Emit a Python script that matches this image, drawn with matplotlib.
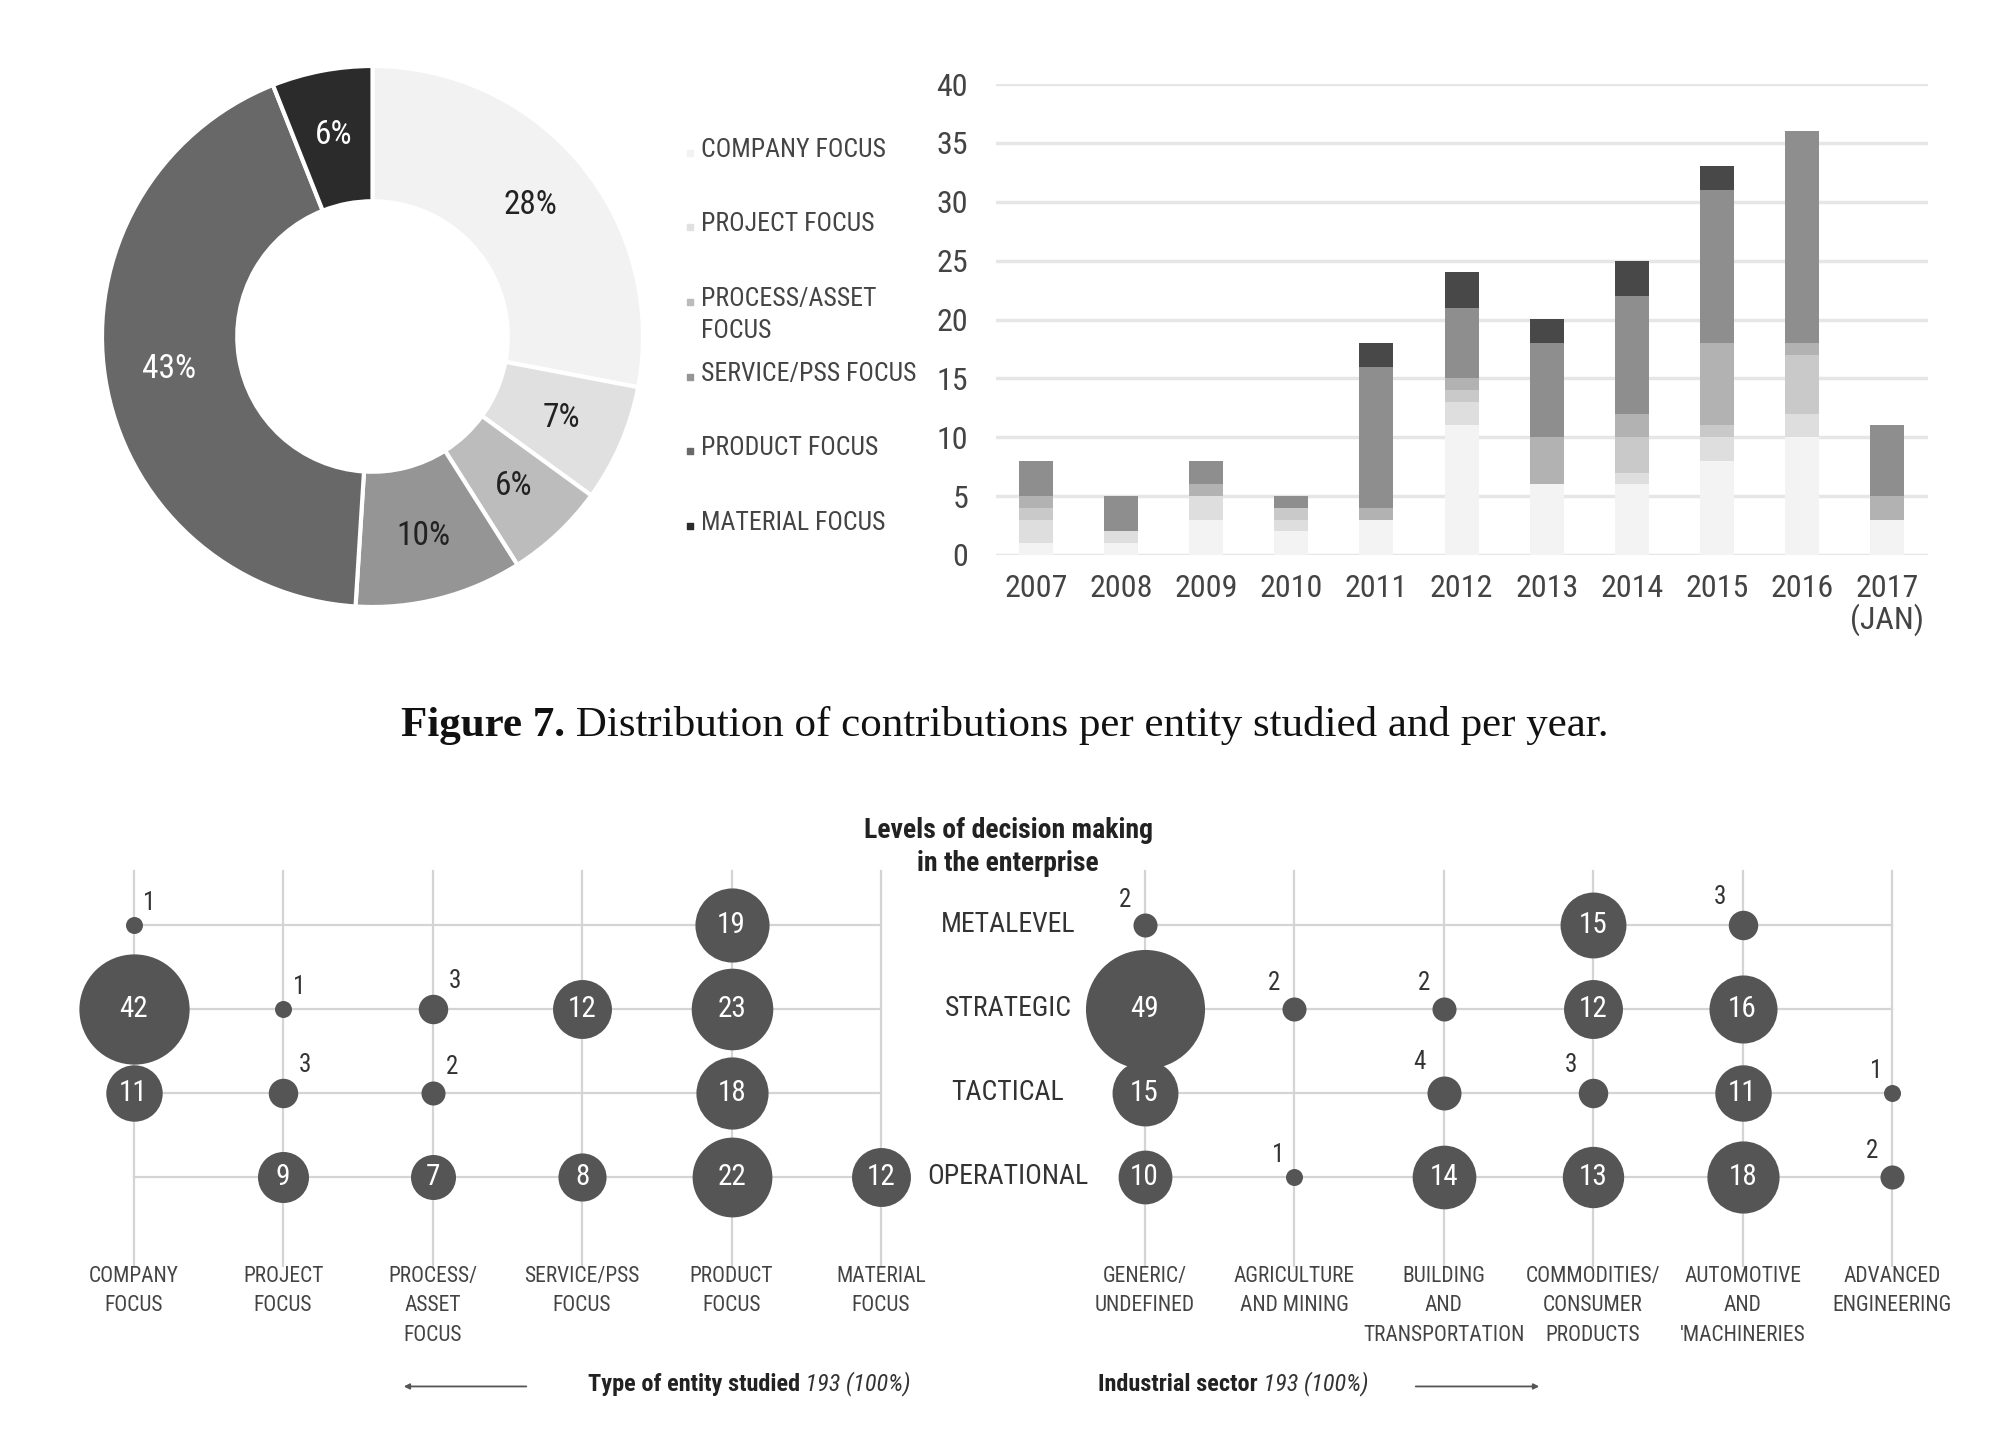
import matplotlib
matplotlib.use("Agg")
import matplotlib.pyplot as plt
from matplotlib import font_manager


# ---- donut: share of contributions per entity studied ----
ENTITY_NAMES = ["COMPANY FOCUS", "PROJECT FOCUS", "PROCESS/ASSET\nFOCUS",
                "SERVICE/PSS FOCUS", "PRODUCT FOCUS", "MATERIAL FOCUS"]
ENTITY_SHARE = [28, 7, 6, 10, 43, 6]

# ---- stacked bars: contributions per year ----
YEARS = ["2007", "2008", "2009", "2010", "2011", "2012", "2013", "2014",
         "2015", "2016", "2017\n(JAN)"]
COMPANY = [1, 1, 3, 2, 3, 11, 6, 6, 8, 10, 3]
PROJECT = [2, 1, 2, 1, 0, 2, 0, 1, 2, 2, 0]
PROCESS = [1, 0, 0, 1, 0, 1, 0, 3, 1, 5, 0]
SERVICE = [1, 0, 1, 0, 1, 1, 4, 2, 7, 1, 2]
PRODUCT = [3, 3, 2, 1, 12, 6, 8, 10, 13, 18, 6]
MATERIAL = [0, 0, 0, 0, 2, 3, 2, 3, 2, 0, 0]

# ---- bubble grid: levels of decision making ----
LEVELS = ["OPERATIONAL", "TACTICAL", "STRATEGIC", "METALEVEL"]
ENTITY_COLS = ["COMPANY\nFOCUS", "PROJECT\nFOCUS", "PROCESS/\nASSET\nFOCUS",
               "SERVICE/PSS\nFOCUS", "PRODUCT\nFOCUS", "MATERIAL\nFOCUS"]
ENTITY_OPERATIONAL = [0, 9, 7, 8, 22, 12]
ENTITY_TACTICAL = [11, 3, 2, 0, 18, 0]
ENTITY_STRATEGIC = [42, 1, 3, 12, 23, 0]
ENTITY_METALEVEL = [1, 0, 0, 0, 19, 0]

SECTOR_COLS = ["GENERIC/\nUNDEFINED", "AGRICULTURE\nAND MINING",
               "BUILDING\nAND\nTRANSPORTATION", "COMMODITIES/\nCONSUMER\nPRODUCTS",
               "AUTOMOTIVE\nAND\n'MACHINERIES", "ADVANCED\nENGINEERING"]
SECTOR_OPERATIONAL = [10, 1, 14, 13, 18, 2]
SECTOR_TACTICAL = [15, 0, 4, 3, 11, 1]
SECTOR_STRATEGIC = [49, 2, 2, 12, 16, 0]
SECTOR_METALEVEL = [2, 0, 0, 15, 3, 0]


def pick_narrow():
    names = {f.name for f in font_manager.fontManager.ttflist}
    for cand in ["Liberation Sans Narrow", "Roboto Condensed", "Open Sans Condensed"]:
        if cand in names:
            return cand
    return "DejaVu Sans"


NARROW = pick_narrow()
TEXT = "#444444"
W, H = 2004, 1434


def box(x0, y0, x1, y1):
    # pixel box (top-left origin) -> figure fraction rect
    return [x0 / W, 1 - y1 / H, (x1 - x0) / W, (y1 - y0) / H]


fig = plt.figure(figsize=(W / 100, H / 100), dpi=100)

# ---------------- donut ----------------
donut_colors = ["#f2f2f2", "#e0e0e0", "#bcbcbc", "#959595", "#686868", "#2b2b2b"]
ax_pie = fig.add_axes(box(102, 66, 643, 607))
wedges, _, autotexts = ax_pie.pie(
    ENTITY_SHARE,
    colors=donut_colors,
    startangle=90,
    counterclock=False,
    radius=1.0,
    autopct=lambda p: f"{p:.0f}%",
    pctdistance=0.76,
    wedgeprops=dict(width=0.5, edgecolor="white", linewidth=3),
)
for i, t in enumerate(autotexts):
    t.set_fontfamily(NARROW)
    t.set_fontsize(24)
    t.set_color("white" if i >= 4 else "#222222")
ax_pie.set_xlim(-1, 1)
ax_pie.set_ylim(-1, 1)
ax_pie.set_aspect("equal")

# legend next to the donut
step = 74.5
ax_leg = fig.add_axes(box(680, 130, 930, 560))
ax_leg.set_xlim(0, 1)
ax_leg.set_ylim(5 + (560 - 522) / step, -(149 - 130) / step)
ax_leg.axis("off")
bar_colors = ["#f3f3f3", "#dedede", "#c9c9c9", "#b2b2b2", "#8e8e8e", "#484848"]
for i, name in enumerate(ENTITY_NAMES):
    ax_leg.scatter([0.04], [i + 0.05], marker="s", s=14, color=donut_colors[i])
    ax_leg.text(0.085, i - 0.15, name, ha="left", va="top", fontfamily=NARROW,
                fontsize=18.5, color=TEXT, linespacing=1.4)

# ---------------- stacked bars ----------------
ax_bar = fig.add_axes(box(996, 84, 1928, 555))
x = list(range(len(YEARS)))
bottom = [0] * len(YEARS)
for series, col in zip([COMPANY, PROJECT, PROCESS, SERVICE, PRODUCT, MATERIAL], bar_colors):
    ax_bar.bar(x, series, bottom=bottom, width=0.4, color=col, zorder=2)
    bottom = [b + s for b, s in zip(bottom, series)]
ax_bar.set_xlim(-0.47, len(YEARS) - 0.52)
ax_bar.set_ylim(0, 40)
ax_bar.set_yticks(range(0, 41, 5))
ax_bar.set_xticks(x)
ax_bar.set_xticklabels(YEARS, linespacing=1.0)
ax_bar.grid(axis="y", color="#e6e6e6", linewidth=2.5, zorder=0)
ax_bar.set_axisbelow(True)
for s in ax_bar.spines.values():
    s.set_visible(False)
ax_bar.tick_params(length=0, labelsize=23, labelcolor=TEXT)
ax_bar.tick_params(axis="y", pad=20)
ax_bar.tick_params(axis="x", pad=14)
for lab in ax_bar.get_xticklabels() + ax_bar.get_yticklabels():
    lab.set_fontfamily(NARROW)
for lab in ax_bar.get_xticklabels():
    lab.set_va("top")

# ---------------- caption ----------------
cap = fig.text(401 / W, 1 - 726 / H, "Figure 7.", fontfamily="Liberation Serif",
               fontweight="bold", fontsize=31, va="center", ha="left", color="#111111")
fig.add_artist(plt.Annotation(
    " Distribution of contributions per entity studied and per year.",
    xy=(1, 0), xycoords=cap, va="bottom", ha="left",
    fontfamily="Liberation Serif", fontsize=31, color="#111111"))

# ---------------- bubble grid ----------------
col0, dcol = 133.6, 149.5
row0, drow = 1176.7, 83.9
ax_b = fig.add_axes(box(0, 780, W, H))
ax_b.set_xlim(-col0 / dcol, (W - col0) / dcol)
ax_b.set_ylim((row0 - H) / drow, (row0 - 780) / drow)
ax_b.axis("off")

right_start = (1144.6 - col0) / dcol
left_x = [float(i) for i in range(6)]
right_x = [right_start + i for i in range(6)]
line_c = "#d4d4d4"

for xs in (left_x, right_x):
    for xv in xs:
        ax_b.plot([xv, xv], [-1.06, 3.64], color=line_c, lw=1.6, zorder=1)
    for r in range(4):
        ax_b.plot([xs[0], xs[-1]], [r, r], color=line_c, lw=1.6, zorder=1)

entity_rows = [ENTITY_OPERATIONAL, ENTITY_TACTICAL, ENTITY_STRATEGIC, ENTITY_METALEVEL]
sector_rows = [SECTOR_OPERATIONAL, SECTOR_TACTICAL, SECTOR_STRATEGIC, SECTOR_METALEVEL]
BUB = "#555555"

for xs, rows, side in ((left_x, entity_rows, 1), (right_x, sector_rows, -1)):
    for r, vals in enumerate(rows):
        for xv, v in zip(xs, vals):
            if v == 0:
                continue
            ax_b.scatter([xv], [r], s=150 * v, color=BUB, zorder=3, linewidths=0)
            if v >= 5:
                ax_b.text(xv, r, str(v), ha="center", va="center", color="white",
                          fontfamily=NARROW, fontsize=21, zorder=4)
            else:
                rad = (150 * v) ** 0.5 / 2
                ax_b.annotate(str(v), (xv, r), xytext=(side * (rad + 1), rad + 1),
                              textcoords="offset points",
                              ha="left" if side > 0 else "right", va="bottom",
                              color="#333333", fontfamily=NARROW, fontsize=18, zorder=4)

label_x = (1008 - col0) / dcol
for r, name in enumerate(LEVELS):
    ax_b.text(label_x, r, name, ha="center", va="center", fontfamily=NARROW,
              fontsize=20, color="#333333")

ax_b.text(label_x, 3.93, "Levels of decision making\nin the enterprise", ha="center",
          va="center", fontfamily=NARROW, fontweight="bold", fontsize=20,
          color="#222222", linespacing=1.25)

for xs, names in ((left_x, ENTITY_COLS), (right_x, SECTOR_COLS)):
    for xv, name in zip(xs, names):
        ax_b.text(xv, -1.06, name, ha="center", va="top", fontfamily=NARROW,
                  fontsize=15.5, color=TEXT, linespacing=1.55)

t1 = ax_b.text((588 - col0) / dcol, -2.48, "Type of entity studied", ha="left",
               va="center", fontfamily=NARROW, fontweight="bold", fontsize=17.5,
               color="#222222")
ax_b.annotate(" 193 (100%)", xy=(1, 0), xycoords=t1, ha="left", va="bottom",
              fontfamily=NARROW, fontstyle="italic", fontsize=17.5, color="#333333")
t2 = ax_b.text((1098 - col0) / dcol, -2.48, "Industrial sector", ha="left",
               va="center", fontfamily=NARROW, fontweight="bold", fontsize=17.5,
               color="#222222")
ax_b.annotate(" 193 (100%)", xy=(1, 0), xycoords=t2, ha="left", va="bottom",
              fontfamily=NARROW, fontstyle="italic", fontsize=17.5, color="#333333")

arrow = dict(arrowstyle="-|>", color="#555555", lw=1.3, mutation_scale=8)
ax_b.annotate("", xy=((401 - col0) / dcol, -2.5), xytext=((529 - col0) / dcol, -2.5),
              arrowprops=arrow)
ax_b.annotate("", xy=((1542 - col0) / dcol, -2.5), xytext=((1413 - col0) / dcol, -2.5),
              arrowprops=arrow)

fig.savefig("out.png", dpi=100)
